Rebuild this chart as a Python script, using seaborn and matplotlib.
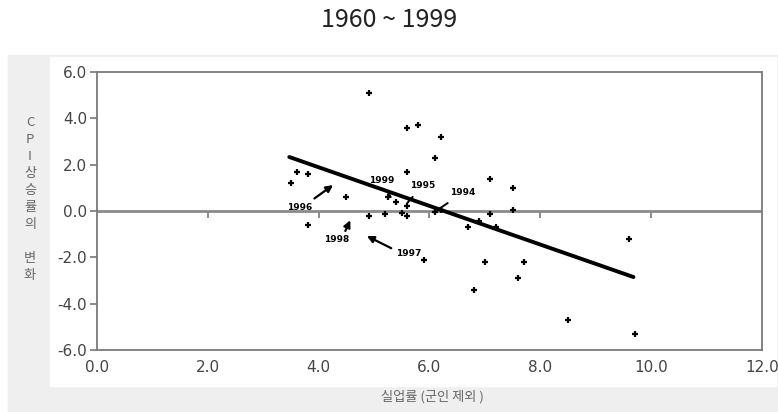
import matplotlib
matplotlib.use("Agg")
import matplotlib.pyplot as plt
from matplotlib.patches import Rectangle
import seaborn as sns
import pandas as pd

# ---- data ----
unemp = [4.9, 5.6, 5.8, 6.2, 6.1, 5.6, 3.6, 3.8, 3.5, 4.5, 7.1, 7.5, 7.5,
         3.8, 4.9, 5.2, 5.25, 5.4, 5.6, 5.5, 5.6, 6.1, 6.2, 6.7, 6.9, 7.1,
         7.2, 5.9, 7.0, 7.7, 7.6, 6.8, 8.5, 9.6, 9.7]
cpi_change = [5.1, 3.6, 3.7, 3.2, 2.3, 1.7, 1.7, 1.6, 1.2, 0.6, 1.4, 1.0, 0.05,
              -0.6, -0.2, -0.15, 0.6, 0.4, 0.2, -0.1, -0.2, -0.05, 0.05, -0.7, -0.45, -0.15,
              -0.7, -2.1, -2.2, -2.2, -2.9, -3.4, -4.7, -1.2, -5.3]
fit_x = [3.47, 9.68]
fit_y = [2.33, -2.85]

ann_labels = ["1996", "1998", "1997", "1999", "1995", "1994"]
ann_text_x = [3.66, 4.33, 5.62, 5.14, 5.87, 6.60]
ann_text_y = [0.17, -1.25, -1.82, 1.30, 1.08, 0.78]
ann_tip_x = [4.26, 4.57, 4.87, 5.30, 5.60, 6.14]
ann_tip_y = [1.12, -0.40, -1.08, 0.60, 0.35, 0.04]
ann_arrow = [True, True, True, False, False, False]
ann_relpos = [(0.85, 1.0), (0.75, 1.0), (0.0, 0.8), (0.5, 0.5), (0.5, 0.5), (0.5, 0.5)]

xticks = [0, 2, 4, 6, 8, 10, 12]
yticks = [-6, -4, -2, 0, 2, 4, 6]

title = "1960 ~ 1999"
xlabel = "실업률 (군인 제외 )"
ylabel_chars = ["C", "P", "I", "상", "승", "률", "의", "", "변", "화"]

# ---- style ----
sns.set_style("white")
plt.rcParams['font.family'] = ['DejaVu Sans', 'Noto Sans CJK KR']

W, H = 778, 412
fig = plt.figure(figsize=(W / 100, H / 100), dpi=100)

# background panels
fig.patches.append(Rectangle((8 / W, 0), (W - 8) / W, (H - 55) / H,
                             transform=fig.transFigure, color="#efefef", zorder=-10))
fig.patches.append(Rectangle((50 / W, 1 - 386 / H), (776 - 50) / W, (386 - 57) / H,
                             transform=fig.transFigure, color="white", zorder=-9))

ax = fig.add_axes([97 / W, 1 - 350 / H, (762 - 97) / W, (350 - 72) / H])
ax.set_facecolor("white")

df = pd.DataFrame({"x": unemp, "y": cpi_change})
fit = pd.DataFrame({"x": fit_x, "y": fit_y})

ax.axhline(0, color="#8a8a8a", lw=2.0, zorder=1)
sns.scatterplot(data=df, x="x", y="y", marker="+", s=22, color="black",
                linewidth=1.6, ax=ax, zorder=3)
sns.lineplot(data=fit, x="x", y="y", color="black", lw=2.8, ax=ax, zorder=4)

for lab, tx, ty, px, py, arr, rp in zip(ann_labels, ann_text_x, ann_text_y,
                                        ann_tip_x, ann_tip_y, ann_arrow, ann_relpos):
    if arr:
        props = dict(arrowstyle="-|>", lw=1.6, color="black", mutation_scale=10,
                     shrinkA=1, shrinkB=0, relpos=rp)
    else:
        props = dict(arrowstyle="-", lw=1.4, color="black", shrinkA=3, shrinkB=0)
    ax.annotate(lab, xy=(px, py), xytext=(tx, ty), ha="center", va="center",
                fontsize=6.5, fontweight="bold", color="black",
                arrowprops=props, zorder=5)

ax.set_xlim(0, 12)
ax.set_ylim(-6, 6)
ax.set_xticks(xticks)
ax.set_xticklabels([f"{v:.1f}" for v in xticks])
ax.set_yticks(yticks)
ax.set_yticklabels([f"{v:.1f}" for v in yticks])
ax.tick_params(axis="x", length=0, pad=7, labelsize=11, colors="#444444")
ax.tick_params(axis="y", direction="out", length=5, width=1.2, color="#777777",
               pad=2, labelsize=11, labelcolor="#444444", left=True)
for s in ax.spines.values():
    s.set_color("#7a7a7a")
    s.set_linewidth(1.3)

# ticks along the zero line
sec = ax.secondary_xaxis(0.5)
sec.set_xticks(xticks[1:-1])
sec.xaxis.set_ticks_position("bottom")
sec.tick_params(axis="x", direction="out", length=5, width=1.2, color="#777777",
                labelbottom=False, labeltop=False)
sec.spines["bottom"].set_visible(False)
sec.spines["top"].set_visible(False)

ax.set_xlabel("")
ax.set_ylabel("")

fig.text(432 / W, 1 - 397 / H, xlabel, ha="center", va="center", fontsize=9.5,
         color="#666666", family=["Noto Sans CJK KR", "DejaVu Sans"])
fig.text(30 / W, 1 - 199 / H, "\n".join(ylabel_chars), ha="center", va="center",
         fontsize=9.5, color="#666666", linespacing=1.4,
         family=["Noto Sans CJK KR", "DejaVu Sans"])
fig.text(389 / W, 1 - 20 / H, title, ha="center", va="center", fontsize=18,
         color="#222222", fontweight="light",
         family=["Noto Sans CJK KR", "DejaVu Sans"])

fig.savefig("out.png", dpi=100)
